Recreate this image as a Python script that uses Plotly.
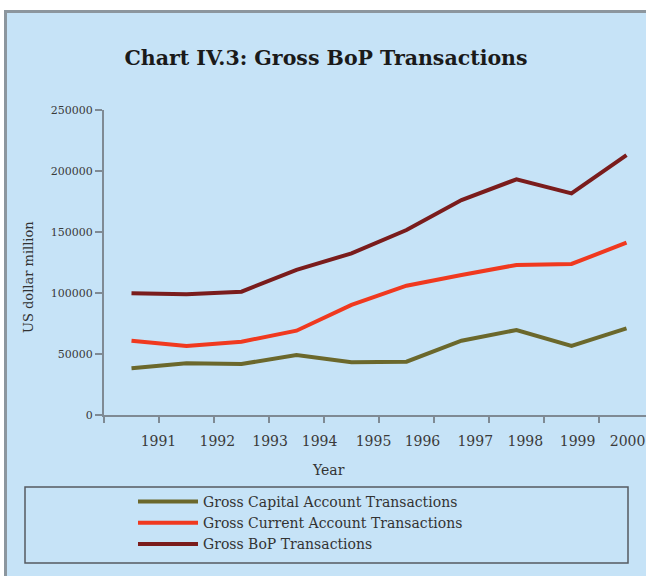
import plotly.graph_objects as go

# ---- data ----
years = [1991, 1992, 1993, 1994, 1995, 1996, 1997, 1998, 1999, 2000]
year_labels = ["1991", "1992", "1993", "1994", "1995", "1996", "1997", "1998", "1999", "2000"]
capital = [38300, 42400, 41800, 49200, 43200, 43700, 60900, 69700, 56600, 71000]
current = [60900, 56600, 60100, 69100, 90200, 106000, 114800, 123000, 123800, 141200]
bop = [99800, 98900, 101100, 118900, 132500, 151600, 176200, 193200, 181700, 213100]
y_ticks = [0, 50000, 100000, 150000, 200000, 250000]

# ---- layout constants ----
W, H = 646, 576
L, R, T, B = 104, 646, 110, 415          # plot area in pixels
BG = "#c6e3f7"
AXIS = "#7f8a94"
# horizontal drift of the printed year labels relative to the data points (in years)
label_shift = [0.49, 0.56, 0.52, 0.42, 0.40, 0.29, 0.25, 0.16, 0.11, 0.02]
label_pos = [y + s for y, s in zip(years, label_shift)]
tick_marks = [y - 0.5 for y in years]


def px(x):
    return (x - L) / (R - L)


def py(y):
    return (B - y) / (B - T)


fig = go.Figure()
series = [
    ("Gross Capital Account Transactions", capital, "#6b682c"),
    ("Gross Current Account Transactions", current, "#f0391f"),
    ("Gross BoP Transactions", bop, "#7a1c1c"),
]
for i, (name, vals, col) in enumerate(series):
    fig.add_trace(go.Scatter(
        x=years, y=vals, name=name, mode="lines",
        line=dict(color=col, width=4),
        legendgroup=f"g{i}",
    ))

font_serif = "DejaVu Serif"

fig.update_layout(
    width=W, height=H,
    margin=dict(l=L, r=W - R, t=T, b=H - B),
    paper_bgcolor="white",
    plot_bgcolor="rgba(0,0,0,0)",
    showlegend=True,
    title=dict(
        text="<b>Chart IV.3: Gross BoP Transactions</b>",
        font=dict(family="DejaVu Serif", size=20.5, color="#1a1a1a"),
        x=326 / W, xref="container", xanchor="center",
        y=1 - 58 / H, yref="container", yanchor="middle",
    ),
    xaxis=dict(
        range=[1990.5, 1990.5 + (R - L) / 55.0],
        tickmode="array", tickvals=label_pos, ticktext=year_labels,
        ticks="", showgrid=False, zeroline=False,
        showline=True, linecolor=AXIS, linewidth=2,
        tickfont=dict(family=font_serif, size=14, color="#3a3a3a"),
        ticklabelstandoff=12,
        minor=dict(tickmode="array", tickvals=tick_marks, ticks="outside",
                   ticklen=6, tickwidth=1.5, tickcolor=AXIS, showgrid=False),
        fixedrange=True,
    ),
    yaxis=dict(
        range=[0, 250000],
        tickmode="array", tickvals=y_ticks, tickformat="d",
        ticks="outside", ticklen=7, tickwidth=2, tickcolor=AXIS,
        showgrid=False, zeroline=False,
        showline=True, linecolor=AXIS, linewidth=2,
        tickfont=dict(family=font_serif, size=11, color="#3a3a3a"),
        fixedrange=True,
    ),
    legend=dict(
        x=px(133), xanchor="left", y=py(486), yanchor="top",
        bgcolor="rgba(0,0,0,0)", borderwidth=0,
        font=dict(family=font_serif, size=14, color="#333333"),
        itemwidth=60, tracegroupgap=0,
    ),
    annotations=[
        dict(text="US dollar million", x=px(28), y=py(277), xref="paper", yref="paper",
             textangle=-90, showarrow=False, xanchor="center", yanchor="middle",
             font=dict(family=font_serif, size=13, color="#333333")),
        dict(text="Year", x=px(328), y=py(470), xref="paper", yref="paper",
             showarrow=False, xanchor="center", yanchor="middle",
             font=dict(family=font_serif, size=14, color="#333333")),
    ],
    shapes=[
        # blue panel
        dict(type="rect", xref="paper", yref="paper", layer="below",
             x0=px(4), x1=px(W + 2), y0=py(10), y1=py(H + 2),
             fillcolor=BG, line=dict(width=0)),
        # top and left frame lines
        dict(type="line", xref="paper", yref="paper", layer="below",
             x0=px(4), x1=px(W + 2), y0=py(11.5), y1=py(11.5),
             line=dict(color="#8c969e", width=3)),
        dict(type="line", xref="paper", yref="paper", layer="below",
             x0=px(5.5), x1=px(5.5), y0=py(10), y1=py(H + 2),
             line=dict(color="#8c969e", width=3)),
        # legend box
        dict(type="rect", xref="paper", yref="paper", layer="below",
             x0=px(25), x1=px(628), y0=py(487), y1=py(563),
             fillcolor="rgba(0,0,0,0)", line=dict(color="#555b61", width=1.5)),
    ],
)

fig.write_html(
    "out.html",
    config={"displayModeBar": False},
    post_script="document.body.style.margin='0';document.body.style.overflow='hidden';",
)
